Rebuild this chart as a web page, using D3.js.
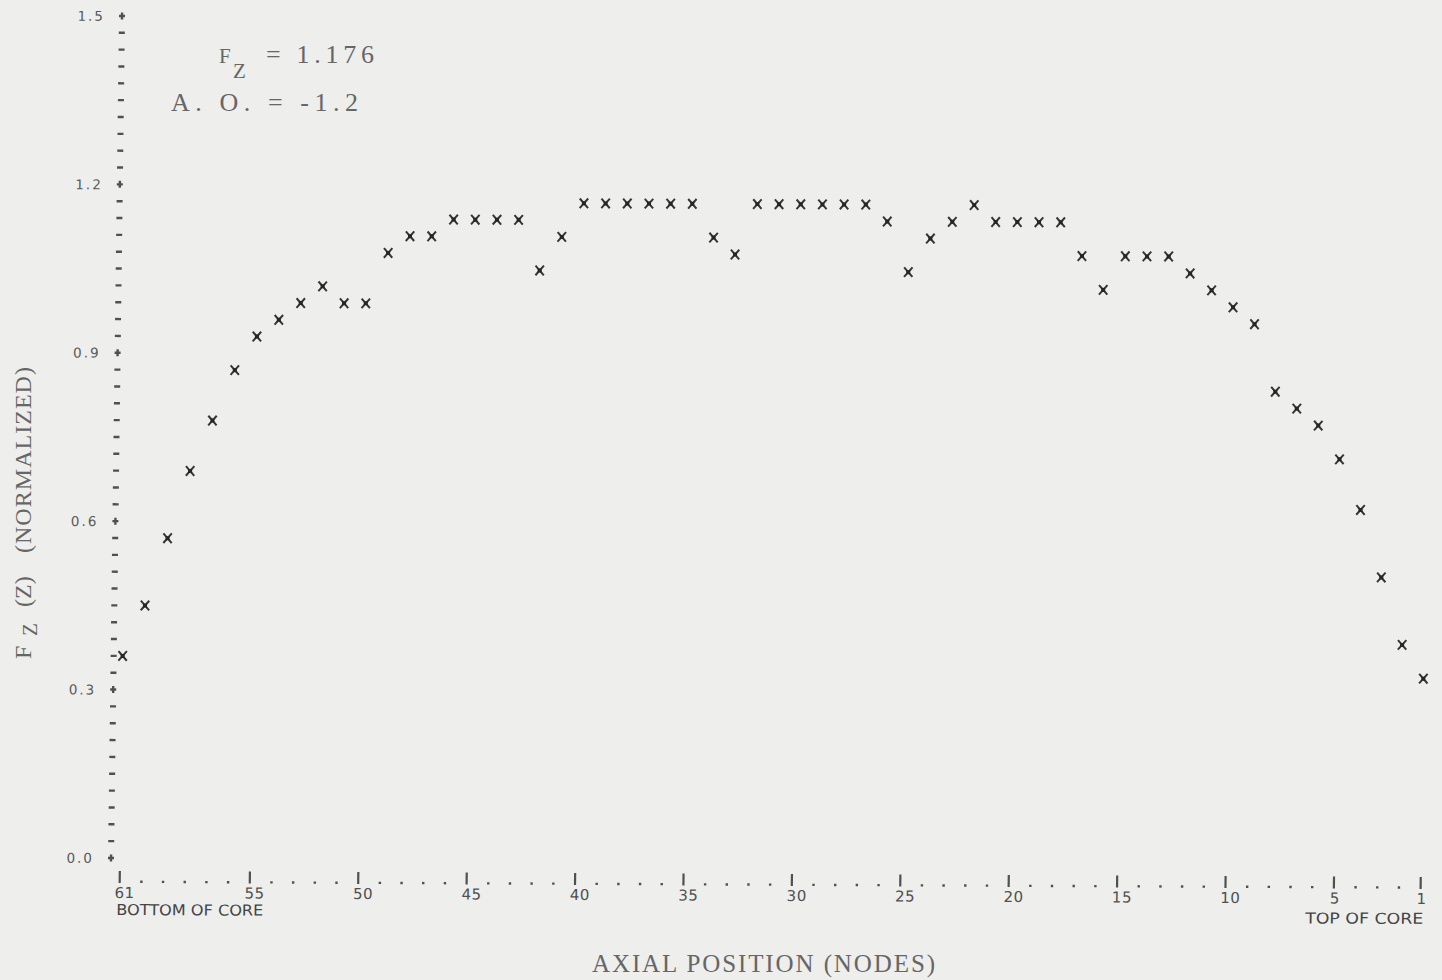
<!DOCTYPE html>
<html>
<head>
<meta charset="utf-8">
<script src="https://cdn.jsdelivr.net/npm/d3@7"></script>
<style>
  html, body { margin: 0; background: #eeeeec; }
  svg { display: block; }
</style>
</head>
<body>
<svg id="chart" width="1442" height="980"></svg>
<script>
// Axial node positions, bottom of core (61) to top of core (1)
const nodes = [61, 60, 59, 58, 57, 56, 55, 54, 53, 52,
               51, 50, 49, 48, 47, 46, 45, 44, 43, 42,
               41, 40, 39, 38, 37, 36, 35, 34, 33, 32,
               31, 30, 29, 28, 27, 26, 25, 24, 23, 22,
               21, 20, 19, 18, 17, 16, 15, 14, 13, 12,
               11, 10, 9, 8, 7, 6, 5, 4, 3, 2, 1];

// Normalized axial power shape Fz(Z) per node
const fz = [0.36, 0.45, 0.57, 0.69, 0.78, 0.87, 0.93, 0.96, 0.99, 1.02,
            0.99, 0.99, 1.08, 1.11, 1.11, 1.14, 1.14, 1.14, 1.14, 1.05,
            1.11, 1.17, 1.17, 1.17, 1.17, 1.17, 1.17, 1.11, 1.08, 1.17,
            1.17, 1.17, 1.17, 1.17, 1.17, 1.14, 1.05, 1.11, 1.14, 1.17,
            1.14, 1.14, 1.14, 1.14, 1.08, 1.02, 1.08, 1.08, 1.08, 1.05,
            1.02, 0.99, 0.96, 0.84, 0.81, 0.78, 0.72, 0.63, 0.51, 0.39,
            0.33];

const yTickValues = [0.0, 0.3, 0.6, 0.9, 1.2, 1.5];
const yTickLabels = ["0.0", "0.3", "0.6", "0.9", "1.2", "1.5"];
const xLabelNodes = [61, 55, 50, 45, 40, 35, 30, 25, 20, 15, 10, 5, 1];
const xTickLabels = ["61", "55", "50", "45", "40", "35", "30", "25", "20", "15", "10", "5", "1"];
const rowStep = 0.03;   // printer line resolution on the Fz axis

const svg = d3.select("#chart");

const x = d3.scaleLinear().domain([61, 1]).range([120, 1421]);
const y = d3.scaleLinear().domain([0, 1.5]).range([858, 16]);

const ink = "#353535";
const printGrey = "#505050";
const printFont = "DejaVu Sans, Liberation Sans, sans-serif";

// printed plot (slightly skewed on the page)
const plot = svg.append("g")
  .attr("transform", "translate(120,858) skewX(-0.75) skewY(0.26) translate(-120,-858)");

// ---- vertical axis: '+' at labelled values, '-' on every print line
const axisX = x(61) - 9;
const rows = d3.range(0, Math.round(1.5 / rowStep) + 1).map(i => +(i * rowStep).toFixed(2));
const yAxis = plot.append("g");
rows.forEach((v, i) => {
  const yy = y(v);
  const major = i % 10 === 0;
  yAxis.append("rect")
    .attr("x", axisX - 3).attr("y", yy - 1.2)
    .attr("width", 6).attr("height", 2.4)
    .attr("fill", printGrey);
  if (major) {
    yAxis.append("rect")
      .attr("x", axisX - 1.2).attr("y", yy - 3.5)
      .attr("width", 2.4).attr("height", 7)
      .attr("fill", printGrey);
  }
});
yAxis.selectAll("text.ytick")
  .data(yTickValues)
  .join("text")
  .attr("class", "ytick")
  .attr("x", axisX - 17)
  .attr("y", d => y(d))
  .attr("dy", "0.37em")
  .attr("text-anchor", "end")
  .attr("font-family", printFont)
  .attr("font-size", 13.5)
  .attr("letter-spacing", 2)
  .attr("fill", "#5a5a5a")
  .text((d, i) => yTickLabels[i]);

// ---- horizontal axis: 'I' at labelled nodes, '.' at the others
const xAxis = plot.append("g");
nodes.forEach(n => {
  const xx = x(n);
  if (xLabelNodes.includes(n)) {
    xAxis.append("rect")
      .attr("x", xx - 1.1).attr("y", 871)
      .attr("width", 2.2).attr("height", 12)
      .attr("fill", printGrey);
  } else {
    xAxis.append("rect")
      .attr("x", xx - 1.2).attr("y", 880.5)
      .attr("width", 2.4).attr("height", 2.4)
      .attr("fill", printGrey);
  }
});
xAxis.selectAll("text.xtick")
  .data(xLabelNodes)
  .join("text")
  .attr("class", "xtick")
  .attr("x", d => x(d) - (d < 10 ? 4 : 5))
  .attr("y", 898)
  .attr("font-family", printFont)
  .attr("font-size", 15)
  .attr("letter-spacing", 0.5)
  .attr("fill", printGrey)
  .text((d, i) => xTickLabels[i]);

xAxis.append("text")
  .attr("x", x(61) - 3).attr("y", 915)
  .attr("font-family", printFont)
  .attr("font-size", 15)
  .attr("textLength", 147).attr("lengthAdjust", "spacingAndGlyphs")
  .attr("fill", "#444")
  .text("BOTTOM OF CORE");

xAxis.append("text")
  .attr("x", x(1) + 3).attr("y", 918)
  .attr("text-anchor", "end")
  .attr("font-family", printFont)
  .attr("font-size", 15)
  .attr("textLength", 118).attr("lengthAdjust", "spacingAndGlyphs")
  .attr("fill", "#444")
  .text("TOP OF CORE");

// ---- data points printed as 'x'
const pts = nodes.map((n, i) => ({ node: n, value: fz[i] }));
const marks = plot.append("g")
  .selectAll("g.pt")
  .data(pts)
  .join("g")
  .attr("class", "pt")
  .attr("transform", d => `translate(${x(d.node)},${y(d.value)})`);
marks.append("path")
  .attr("d", "M-4.2,-4.8L4.2,4.8M-4.2,4.8L4.2,-4.8")
  .attr("stroke", ink)
  .attr("stroke-width", 2)
  .attr("fill", "none");
marks.append("rect")
  .attr("x", -2).attr("y", -2)
  .attr("width", 4).attr("height", 4)
  .attr("fill", "#262626");

// ---- typed annotations
const typeFont = "Liberation Serif, Times New Roman, serif";
const typeGrey = "#666";

svg.append("text").attr("x", 219).attr("y", 63)
  .attr("font-family", typeFont).attr("font-size", 21).attr("fill", typeGrey).text("F");
svg.append("text").attr("x", 233).attr("y", 78)
  .attr("font-family", typeFont).attr("font-size", 21).attr("fill", typeGrey).text("Z");
svg.append("text").attr("x", 266).attr("y", 63)
  .attr("font-family", typeFont).attr("font-size", 26).attr("fill", typeGrey)
  .attr("textLength", 108).attr("lengthAdjust", "spacing")
  .text("= 1.176");
svg.append("text").attr("x", 171).attr("y", 111)
  .attr("font-family", typeFont).attr("font-size", 26).attr("fill", typeGrey)
  .attr("textLength", 187).attr("lengthAdjust", "spacing")
  .text("A. O. = -1.2");

// x-axis title
svg.append("text").attr("x", 592).attr("y", 972)
  .attr("font-family", typeFont).attr("font-size", 25).attr("fill", typeGrey)
  .attr("textLength", 343).attr("lengthAdjust", "spacing")
  .text("AXIAL POSITION (NODES)");

// y-axis title
const yTitle = svg.append("g").attr("transform", "translate(31,660) rotate(-90)");
yTitle.append("text").attr("x", 1).attr("y", 0)
  .attr("font-family", typeFont).attr("font-size", 24).attr("fill", typeGrey).text("F");
yTitle.append("text").attr("x", 24).attr("y", 6)
  .attr("font-family", typeFont).attr("font-size", 21).attr("fill", typeGrey).text("Z");
yTitle.append("text").attr("x", 53).attr("y", 0)
  .attr("font-family", typeFont).attr("font-size", 24).attr("fill", typeGrey)
  .text("(Z)");
yTitle.append("text").attr("x", 107).attr("y", 0)
  .attr("font-family", typeFont).attr("font-size", 24).attr("fill", typeGrey)
  .attr("textLength", 186).attr("lengthAdjust", "spacing").text("(NORMALIZED)");
</script>
</body>
</html>
